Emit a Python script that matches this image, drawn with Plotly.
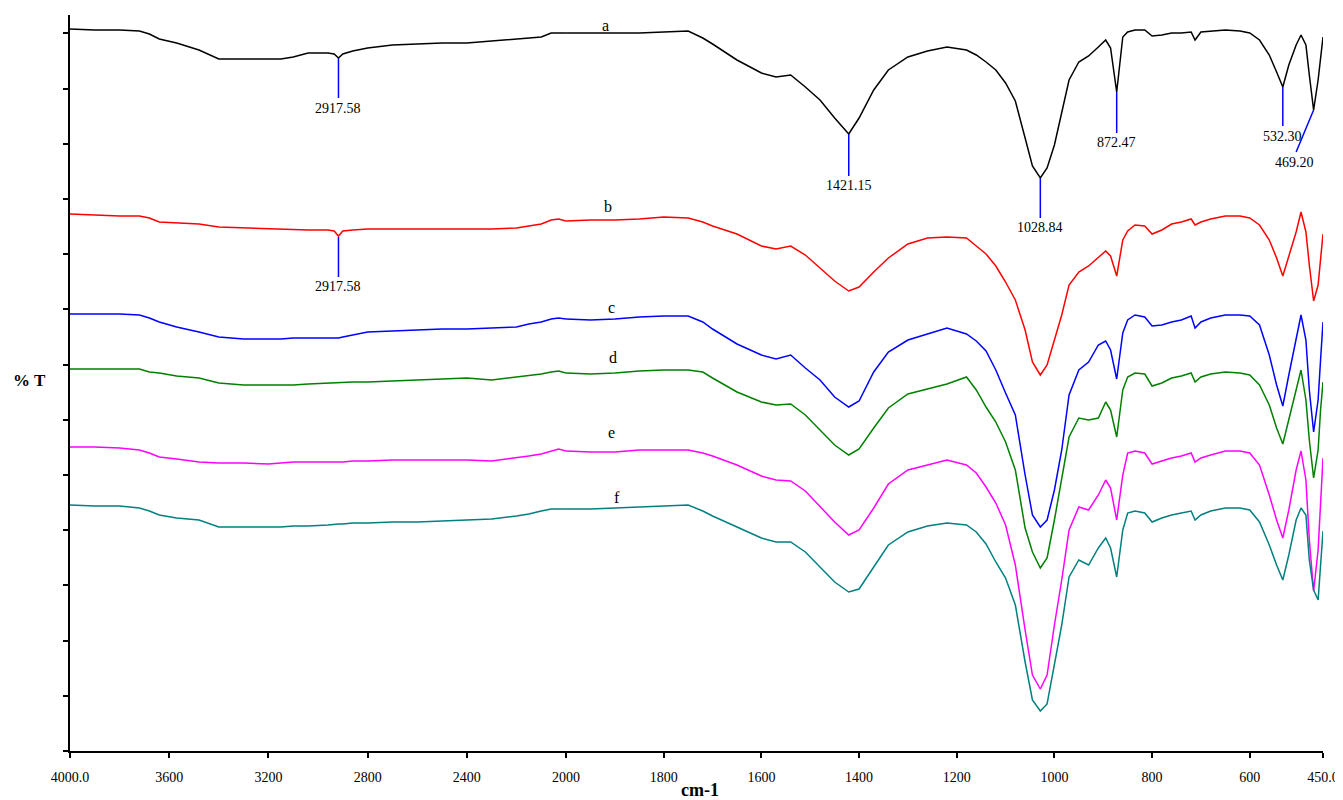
import plotly.graph_objects as go

# Wavenumbers (cm-1): high region 4000-2000, then low region 2000-450
WN = [4000, 3900, 3800, 3720, 3680, 3640, 3570, 3480, 3400, 3300, 3200, 3150, 3100, 3040,
      2960, 2935, 2917.58, 2900, 2860, 2800, 2700, 2600, 2500, 2400, 2300, 2200, 2150, 2100,
      2060, 2030, 2000,
      1950, 1900, 1850, 1800, 1750, 1720, 1700, 1650, 1600, 1570,
      1540, 1510, 1480, 1450, 1421.15, 1400, 1370, 1340, 1300, 1260,
      1220, 1180, 1160, 1140, 1120, 1100, 1080, 1060, 1045, 1028.84,
      1015, 1000, 985, 970, 950, 930, 910, 895, 885, 872.47,
      860, 850, 835, 815, 800, 780, 760, 740, 720, 712,
      700, 680, 650, 620, 600, 580, 560, 545, 532.3, 520,
      505, 495, 485, 478, 469.2, 460, 455, 450]

# %T (arbitrary offset units) for each spectrum
T_a = [722, 721, 721, 720, 717, 712, 708, 701, 692, 692, 692, 692, 694, 698,
       698, 697, 693, 697, 700, 703, 706, 707, 708, 708, 710, 712, 713, 714,
       718, 718, 718,
       718, 718, 718, 719, 720, 713, 707, 691, 678, 674,
       676, 664, 651, 633, 617, 633, 661, 681, 694, 700,
       704, 701, 696, 689, 681, 668, 650, 613, 585, 573,
       583, 606, 639, 671, 689, 695, 704, 711, 703, 659,
       714, 719, 721, 721, 715, 716, 718, 718, 719, 711,
       719, 720, 721, 720, 718, 711, 696, 679, 664, 686,
       706, 716, 706, 676, 641, 671, 696, 714]
T_b = [537, 536, 535, 535, 533, 529, 528, 527, 524, 523, 522, 522, 521.5, 521,
       521, 520, 515, 520, 521, 522, 522, 522, 522, 522, 522, 523, 525, 527,
       531, 532, 530,
       531, 531, 532, 534, 533, 529, 525, 517, 505, 502,
       505, 496, 483, 470, 460, 464, 479, 493, 507, 513,
       514, 513, 505, 497, 485, 469, 451, 421, 389, 376,
       386, 411, 436, 466, 479, 485, 494, 500, 495, 475,
       511, 520, 526, 525, 517, 521, 527, 529, 532, 526,
       529, 532, 535, 535, 533, 526, 511, 493, 475, 496,
       519, 539, 519, 486, 450, 466, 496, 517]
T_c = [437, 437, 437, 436, 433, 429, 424, 419, 414, 412, 412, 412, 413, 413,
       413, 413, 413, 414, 416, 419, 420, 421, 422, 422, 423, 424, 427, 429,
       432, 433, 432,
       431, 432, 434, 435, 435, 429, 422, 407, 396, 392,
       396, 383, 371, 354, 344, 350, 379, 399, 411, 417,
       423, 417, 410, 400, 381, 358, 336, 276, 236, 224,
       231, 261, 301, 356, 381, 389, 406, 410, 401, 372,
       418, 431, 436, 434, 425, 426, 429, 431, 435, 423,
       429, 433, 436, 436, 435, 426, 396, 366, 345, 376,
       411, 436, 411, 361, 319, 351, 391, 429]
T_d = [382, 382, 382, 382, 379, 378, 375, 373, 368, 366, 366, 366, 366, 367,
       368, 368, 368, 368, 369, 369, 370, 371, 372, 373, 371, 374, 375, 377,
       379, 380, 378,
       377, 378, 380, 381, 381, 379, 373, 359, 349, 346,
       347, 336, 321, 306, 296, 302, 323, 343, 357, 362,
       367, 374, 361, 344, 329, 309, 281, 223, 199, 183,
       193, 231, 271, 314, 333, 331, 333, 349, 341, 314,
       361, 374, 378, 377, 365, 368, 373, 375, 378, 369,
       374, 377, 379, 378, 376, 366, 346, 323, 307, 331,
       359, 381, 351, 311, 273, 301, 341, 369]
T_e = [304, 304, 303, 301, 298, 294, 292, 289, 288, 288, 287, 288, 289, 289,
       289, 289, 289, 289, 290, 290, 291, 291, 291, 291, 290, 293, 295, 297,
       300, 302, 300,
       299, 299, 301, 301, 301, 298, 295, 286, 275, 271,
       270, 260, 245, 229, 216, 221, 243, 267, 281, 286,
       291, 286, 278, 264, 248, 226, 186, 121, 76, 62,
       76, 126, 171, 221, 244, 241, 256, 271, 263, 231,
       276, 298, 300, 298, 287, 290, 293, 295, 298, 289,
       293, 296, 300, 300, 298, 286, 256, 231, 213, 241,
       281, 300, 271, 211, 160, 201, 251, 293]
T_f = [246, 245, 245, 243, 240, 236, 233, 231, 224, 224, 224, 224, 225, 225,
       226, 227, 227, 227, 228, 228, 229, 229, 230, 231, 232, 235, 237, 240,
       242, 242, 242,
       242, 243, 244, 245, 246, 240, 235, 224, 213, 209,
       209, 199, 184, 169, 159, 162, 184, 206, 219, 225,
       228, 226, 219, 207, 189, 173, 146, 89, 51, 40,
       47, 86, 126, 174, 191, 186, 203, 213, 203, 174,
       221, 238, 240, 238, 229, 233, 236, 238, 240, 231,
       236, 240, 243, 243, 241, 229, 206, 186, 171, 196,
       231, 243, 236, 191, 161, 151, 181, 220]

SERIES = [("a", T_a, "#000000"), ("b", T_b, "#FF0000"), ("c", T_c, "#0000FF"),
          ("d", T_d, "#008000"), ("e", T_e, "#FF00FF"), ("f", T_f, "#008080")]

# Curve letter labels: (label, wavenumber, level)
CURVE_LABELS = [("a", 1920, 726), ("b", 1914, 545), ("c", 1906, 444),
                ("d", 1904, 394), ("e", 1906, 319), ("f", 1896, 254)]

# Peak markers: (text, line x0, y0, x1, y1, label x, label y)
PEAKS = [("2917.58", 2917.58, 693, 2917.58, 653, 2917.58, 643),
         ("2917.58", 2917.58, 514, 2917.58, 474, 2917.58, 465),
         ("1421.15", 1421.15, 617, 1421.15, 575, 1421.15, 566),
         ("1028.84", 1028.84, 573, 1028.84, 533, 1028.84, 524),
         ("872.47", 872.47, 659, 872.47, 618, 872.47, 609),
         ("532.30", 532.3, 664, 532.3, 625, 532.3, 615),
         ("469.20", 469.2, 641, 505, 599, 509, 589)]

X_HI_TICKS = [4000, 3600, 3200, 2800, 2400, 2000]
X_HI_TEXT = ["4000.0", "3600", "3200", "2800", "2400", "2000"]
X_LO_TICKS = [1800, 1600, 1400, 1200, 1000, 800, 600, 450]
X_LO_TEXT = ["1800", "1600", "1400", "1200", "1000", "800", "600", "450.0"]

SPLIT = 2000
FONT = "Liberation Serif"

fig = go.Figure()
for name, vals, col in SERIES:
    hi = [(w, v) for w, v in zip(WN, vals) if w >= SPLIT]
    lo = [(w, v) for w, v in zip(WN, vals) if w <= SPLIT]
    fig.add_trace(go.Scatter(x=[p[0] for p in hi], y=[p[1] for p in hi], mode="lines",
                             line=dict(color=col, width=1.5), xaxis="x", yaxis="y",
                             showlegend=False, name=name))
    fig.add_trace(go.Scatter(x=[p[0] for p in lo], y=[p[1] for p in lo], mode="lines",
                             line=dict(color=col, width=1.5), xaxis="x2", yaxis="y",
                             showlegend=False, name=name))

annotations = []
for text, x0, y0, x1, y1, lx, ly in PEAKS:
    ax = "x" if x0 > SPLIT else "x2"
    fig.add_trace(go.Scatter(x=[x0, x1], y=[y0, y1], mode="lines",
                             line=dict(color="#0000FF", width=1.5), xaxis=ax, yaxis="y",
                             showlegend=False, hoverinfo="skip"))
    annotations.append(dict(x=lx, y=ly, xref=ax, yref="y", text=text, showarrow=False,
                            font=dict(family=FONT, size=14, color="black"),
                            xanchor="center", yanchor="middle"))

for text, lx, ly in CURVE_LABELS:
    annotations.append(dict(x=lx, y=ly, xref="x2", yref="y", text=text, showarrow=False,
                            font=dict(family=FONT, size=16, color="black"),
                            xanchor="center", yanchor="middle"))

annotations.append(dict(x=-0.032, y=0.504, xref="paper", yref="paper", text="<b>% T</b>",
                        showarrow=False, font=dict(family=FONT, size=17, color="black"),
                        xanchor="center", yanchor="middle"))
annotations.append(dict(x=0.503, y=-0.053, xref="paper", yref="paper", text="<b>cm-1</b>",
                        showarrow=False, font=dict(family=FONT, size=18, color="black"),
                        xanchor="center", yanchor="middle"))

SPLIT_FRAC = 0.3959
axis_common = dict(showgrid=False, zeroline=False, showline=True, linecolor="black",
                   linewidth=2, ticks="outside", ticklen=5, tickwidth=1.5, tickcolor="black",
                   tickfont=dict(family=FONT, size=14, color="black"), anchor="y",
                   tickmode="array", ticklabelstandoff=7)

# margins compensate for the 8px default page-body offset
fig.update_layout(
    width=1343, height=800,
    margin=dict(l=62, r=28, t=7, b=57),
    paper_bgcolor="white", plot_bgcolor="white",
    xaxis=dict(domain=[0, SPLIT_FRAC], range=[4000, 2000], tickvals=X_HI_TICKS,
               ticktext=X_HI_TEXT, **axis_common),
    xaxis2=dict(domain=[SPLIT_FRAC, 1], range=[2000, 450], tickvals=X_LO_TICKS,
                ticktext=X_LO_TEXT, **axis_common),
    yaxis=dict(range=[0, 736], showgrid=False, zeroline=False, showline=True,
               linecolor="black", linewidth=2, ticks="outside", ticklen=5, tickwidth=1.5,
               tickcolor="black", showticklabels=False, tickmode="linear", tick0=0,
               dtick=55.2),
    annotations=annotations,
)

fig.write_html("out.html")
